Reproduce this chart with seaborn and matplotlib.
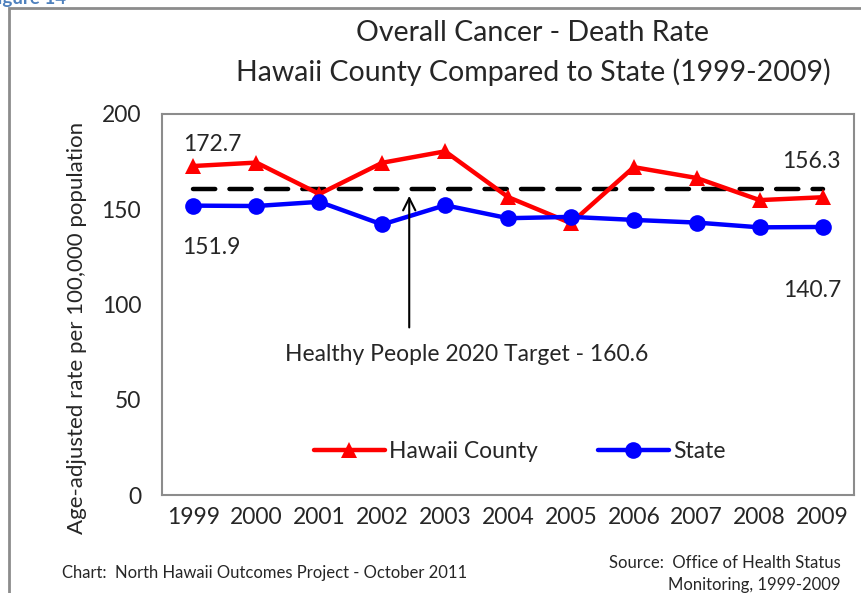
import matplotlib

matplotlib.use("Agg")

import matplotlib.pyplot as plt
import pandas as pd
import seaborn as sns
from matplotlib.lines import Line2D
from matplotlib.patches import Rectangle

YEARS = [1999, 2000, 2001, 2002, 2003, 2004, 2005, 2006, 2007, 2008, 2009]
HAWAII_COUNTY = [172.7, 174.5, 158.0, 174.4, 180.4, 156.4, 142.7, 172.1, 166.4, 154.8, 156.3]
STATE = [151.9, 151.7, 153.9, 142.0, 152.1, 145.3, 146.0, 144.4, 143.0, 140.5, 140.7]
TARGET = 160.6
Y_TICKS = [0, 50, 100, 150, 200]

RED = "#FF0000"
BLUE = "#0000FF"
GREY = "#8C8C8C"
FS = 16.5

df = pd.DataFrame(
    {
        "Year": YEARS * 2,
        "Rate": HAWAII_COUNTY + STATE,
        "Series": ["Hawaii County"] * len(YEARS) + ["State"] * len(YEARS),
    }
)

sns.set_style("white")
plt.rcParams["font.family"] = ["Lato", "DejaVu Sans"]

fig = plt.figure(figsize=(8.62, 5.93), dpi=100)
ax = fig.add_axes([162 / 862, 1 - 495 / 593, 692 / 862, 381 / 593])

# target line
ax.plot(
    [YEARS[0], YEARS[-1]],
    [TARGET, TARGET],
    color="black",
    lw=3.2,
    dashes=(5, 3.2),
    dash_capstyle="round",
    zorder=1,
)

sns.lineplot(
    data=df,
    x="Year",
    y="Rate",
    hue="Series",
    style="Series",
    markers={"Hawaii County": "^", "State": "o"},
    dashes=False,
    palette={"Hawaii County": RED, "State": BLUE},
    linewidth=3.2,
    markersize=12,
    markeredgewidth=0,
    legend=False,
    ax=ax,
    zorder=2,
)

ax.set_xlim(YEARS[0] - 0.5, YEARS[-1] + 0.5)
ax.set_ylim(0, 200)
ax.set_xticks(YEARS)
ax.set_xticklabels([str(y) for y in YEARS])
ax.set_yticks(Y_TICKS)
ax.tick_params(axis="both", labelsize=FS, length=0)
ax.tick_params(axis="y", pad=15)
ax.tick_params(axis="x", pad=9)
ax.set_xlabel("")
ax.set_ylabel("Age-adjusted rate per 100,000 population", fontsize=16)
ax.yaxis.set_label_coords(-0.108, 0.438)
for side in ax.spines.values():
    side.set_color(GREY)
    side.set_linewidth(1.5)

# data labels
ax.text(1999.3, 184, "172.7", fontsize=FS, ha="center", va="center")
ax.text(1999.28, 130, "151.9", fontsize=FS, ha="center", va="center")
ax.text(2008.83, 175, "156.3", fontsize=FS, ha="center", va="center")
ax.text(2008.83, 107.6, "140.7", fontsize=FS, ha="center", va="center")

# target annotation
ax.annotate(
    "",
    xy=(2002.43, 158.5),
    xytext=(2002.43, 86.5),
    arrowprops=dict(arrowstyle="->", color="black", lw=1.5, mutation_scale=22),
)
ax.text(2003.35, 73.5, "Healthy People 2020 Target - 160.6", fontsize=FS,
        ha="center", va="center")

handles = [
    Line2D([], [], color=RED, lw=3.2, marker="^", markersize=12, markeredgewidth=0),
    Line2D([], [], color=BLUE, lw=3.2, marker="o", markersize=12, markeredgewidth=0),
]
ax.legend(
    handles,
    ["Hawaii County", "State"],
    loc="center",
    bbox_to_anchor=(0.517, 0.113),
    ncol=2,
    frameon=False,
    fontsize=FS,
    handlelength=3.1,
    handletextpad=0.2,
    columnspacing=2.6,
)

# titles and footers
fig.text(533 / 862, 1 - 33 / 593, "Overall Cancer - Death Rate", fontsize=20.5,
         ha="center", va="center")
fig.text(533 / 862, 1 - 72 / 593, "Hawaii County Compared to State (1999-2009)",
         fontsize=20.5, ha="center", va="center")
fig.text(62 / 862, 1 - 573 / 593, "Chart:  North Hawaii Outcomes Project - October 2011",
         fontsize=12, ha="left", va="center")
fig.text(841 / 862, 1 - 563 / 593, "Source:  Office of Health Status",
         fontsize=12, ha="right", va="center")
fig.text(841 / 862, 1 - 585 / 593, "Monitoring, 1999-2009",
         fontsize=12, ha="right", va="center")
fig.text(-0.015, 1 - 4 / 593, "Figure 14", fontsize=13.5, color="#4F81BD",
         fontweight="bold", ha="left", va="baseline")

# outer frame of the chart object
fig.patches.append(
    Rectangle((9 / 862, -0.1), 1.2, 1.1 - 8 / 593, transform=fig.transFigure,
              fill=False, edgecolor=GREY, lw=2, clip_on=False)
)

fig.savefig("out.png", dpi=100)
